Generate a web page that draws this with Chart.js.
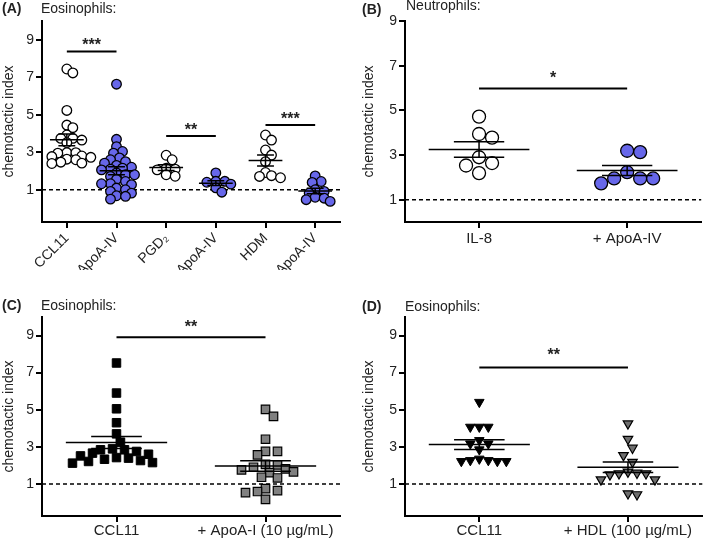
<!DOCTYPE html>
<html>
<head>
<meta charset="utf-8">
<script src="https://cdn.jsdelivr.net/npm/chart.js@4/dist/chart.umd.min.js"></script>
<style>
  body { margin: 0; width: 709px; height: 538px; position: relative; background: #fff; overflow: hidden;
         font-family: "Liberation Sans", Arial, sans-serif; }
  canvas { position: absolute; }
  .lbl { position: absolute; font-size: 14px; color: #222; white-space: nowrap; line-height: 16px; }
</style>
</head>
<body>
<canvas id="chartA" width="355" height="270" style="left:0;top:0"></canvas>
<canvas id="chartB" width="349" height="270" style="left:360px;top:0"></canvas>
<canvas id="chartC" width="355" height="268" style="left:0;top:270px"></canvas>
<canvas id="chartD" width="349" height="268" style="left:360px;top:270px"></canvas>

<div class="lbl" style="left:2px;top:0"><b>(A)</b></div>
<div class="lbl" style="left:41px;top:0">Eosinophils:</div>
<div class="lbl" style="left:362px;top:1px"><b>(B)</b></div>
<div class="lbl" style="left:406px;top:-3px">Neutrophils:</div>
<div class="lbl" style="left:2px;top:297px"><b>(C)</b></div>
<div class="lbl" style="left:41px;top:297px">Eosinophils:</div>
<div class="lbl" style="left:362px;top:298px"><b>(D)</b></div>
<div class="lbl" style="left:405px;top:298px">Eosinophils:</div>

<script>
// values (chemotactic index)
const yTicks = [1, 3, 5, 7, 9];
const baseline = 1;

// (A) eosinophils
const catsA = ['CCL11', '+ ApoA-IV', 'PGD₂', '+ ApoA-IV', 'HDM', '+ ApoA-IV'];
const ccl11A = [7.44, 7.23, 5.23, 4.45, 4.31, 3.92, 3.74, 3.74, 3.65, 3.51, 2.98, 2.98, 2.95, 2.80, 2.77, 2.73, 2.63, 2.60, 2.47, 2.42, 2.40];
const ccl11ApoA = [6.63, 3.69, 3.30, 3.04, 2.95, 2.70, 2.60, 2.50, 2.42, 2.30, 2.20, 2.15, 2.10, 2.06, 1.90, 1.80, 1.80, 1.71, 1.55, 1.44, 1.32, 1.32, 1.27, 1.09, 1.00, 0.91, 0.82, 0.68, 0.65, 0.50];
const pgd2A = [2.84, 2.60, 2.15, 2.10, 2.06, 1.80, 1.72];
const pgd2ApoA = [1.90, 1.45, 1.45, 1.40, 1.30, 1.10, 0.87];
const hdmA = [3.92, 3.65, 3.12, 2.85, 2.50, 1.92, 1.75, 1.71, 1.64];
const hdmApoA = [1.74, 1.44, 1.39, 1.00, 0.91, 0.82, 0.60, 0.55, 0.47, 0.38];
const sigA = [[0, 1, 8.38, '***'], [2, 3, 3.87, '**'], [4, 5, 4.45, '***']];

// (B) neutrophils
const catsB = ['IL-8', '+ ApoA-IV'];
const il8B = [4.72, 3.94, 3.78, 2.90, 2.64, 2.53, 2.19];
const il8ApoB = [3.19, 3.13, 2.23, 1.95, 1.95, 1.95, 1.73];
const sigB = [[0, 1, 5.98, '*']];

// (C) eosinophils, ApoA-I
const catsC = ['CCL11', '+ ApoA-I (10 µg/mL)'];
const ccl11C = [7.52, 5.90, 5.05, 4.30, 3.70, 3.25, 2.89, 2.84, 2.84, 2.75, 2.66, 2.60, 2.51, 2.42, 2.39, 2.33, 2.26, 2.21, 2.15, 2.12];
const apoA1C = [5.02, 4.64, 3.41, 2.75, 2.75, 2.57, 2.05, 2.03, 1.90, 1.81, 1.76, 1.65, 1.61, 1.36, 1.32, 0.75, 0.64, 0.59, 0.53, 0.17];
const sigC = [[0, 1, 8.91, '**']];

// (D) eosinophils, HDL
const catsD = ['CCL11', '+ HDL (100 µg/mL)'];
const ccl11D = [5.41, 4.07, 4.07, 4.07, 3.35, 3.17, 3.17, 2.85, 2.35, 2.27, 2.27, 2.22, 2.22, 2.22];
const hdlD = [4.25, 3.42, 2.94, 2.54, 2.18, 1.65, 1.59, 1.56, 1.56, 1.50, 1.23, 1.23, 0.48, 0.43];
const sigD = [[0, 1, 7.28, '**']];

Chart.defaults.font.family = '"Liberation Sans", Arial, sans-serif';
const ink = '#222';
const BLUE = '#6767ea';

// mean +/- SEM bars, dashed reference line and significance bars
const statsPlugin = {
  id: 'stats',
  beforeDatasetsDraw(chart) {
    const { ctx, chartArea, scales: { y } } = chart;
    const py = y.getPixelForValue(baseline);
    ctx.save();
    ctx.strokeStyle = '#000';
    ctx.lineWidth = 1.5;
    ctx.setLineDash([4, 3]);
    ctx.beginPath();
    ctx.moveTo(chartArea.left, py);
    ctx.lineTo(chartArea.right, py);
    ctx.stroke();
    ctx.restore();
  },
  afterDatasetsDraw(chart) {
    const { ctx, scales: { x, y } } = chart;
    const o = chart.options.plugins.stats;
    const step = x.getPixelForValue(1) - x.getPixelForValue(0);
    ctx.save();
    ctx.strokeStyle = '#000';
    ctx.lineWidth = 1.5;
    o.groups.forEach((vals, i) => {
      const n = vals.length;
      const mean = vals.reduce((a, b) => a + b, 0) / n;
      const sd = Math.sqrt(vals.reduce((a, b) => a + (b - mean) ** 2, 0) / (n - 1));
      const sem = sd / Math.sqrt(n);
      const cx = x.getPixelForValue(i);
      const wm = step * 0.34, ws = step * 0.17;
      const pm = y.getPixelForValue(mean), pu = y.getPixelForValue(mean + sem), pl = y.getPixelForValue(mean - sem);
      ctx.beginPath();
      ctx.moveTo(cx - wm, pm); ctx.lineTo(cx + wm, pm);
      ctx.moveTo(cx - ws, pu); ctx.lineTo(cx + ws, pu);
      ctx.moveTo(cx - ws, pl); ctx.lineTo(cx + ws, pl);
      ctx.moveTo(cx, pu); ctx.lineTo(cx, pl);
      ctx.stroke();
    });
    ctx.lineWidth = 2;
    ctx.fillStyle = ink;
    ctx.font = 'bold 16px "Liberation Sans", Arial, sans-serif';
    ctx.textAlign = 'center';
    ctx.textBaseline = 'alphabetic';
    o.sig.forEach(([a, b, v, txt]) => {
      const x1 = x.getPixelForValue(a), x2 = x.getPixelForValue(b), py = y.getPixelForValue(v);
      ctx.beginPath();
      ctx.moveTo(x1, py); ctx.lineTo(x2, py);
      ctx.stroke();
      ctx.fillText(txt, (x1 + x2) / 2, py - o.gap);
    });
    ctx.restore();
  }
};

// spread points sideways so they do not sit on top of each other
function swarm(chart, gap, step) {
  const xs = chart.scales.x, ys = chart.scales.y;
  const unit = xs.getPixelForValue(1) - xs.getPixelForValue(0);
  chart.data.datasets.forEach((ds, i) => {
    const placed = [];
    const order = ds.data.map((p, k) => k).sort((a, b) => ds.data[b].y - ds.data[a].y);
    order.forEach(k => {
      const py = ys.getPixelForValue(ds.data[k].y);
      for (let j = 0; j < 400; j++) {
        const off = (j % 2 ? 1 : -1) * Math.ceil(j / 2) * step;
        if (placed.every(q => (q[0] - off) ** 2 + (q[1] - py) ** 2 >= gap * gap)) {
          placed.push([off, py]);
          ds.data[k].x = i + off / unit;
          break;
        }
      }
    });
  });
  chart.update('none');
}

function makePanel(id, p) {
  const n = p.cats.length;
  const chart = new Chart(document.getElementById(id), {
    type: 'scatter',
    data: {
      datasets: p.groups.map((vals, i) => ({
        data: vals.map(v => ({ x: i, y: v })),
        pointStyle: p.marks[i].shape,
        rotation: p.marks[i].rot || 0,
        radius: p.marks[i].r,
        hoverRadius: p.marks[i].r,
        backgroundColor: p.marks[i].fill,
        borderColor: '#000',
        borderWidth: p.marks[i].bw
      }))
    },
    options: {
      responsive: false,
      animation: false,
      layout: { padding: p.pad },
      plugins: {
        legend: { display: false },
        tooltip: { enabled: false },
        stats: { groups: p.groups, sig: p.sig, gap: p.gap }
      },
      scales: {
        x: {
          type: 'linear', min: -0.5, max: n - 0.5,
          afterBuildTicks: s => { s.ticks = p.cats.map((c, i) => ({ value: i })); },
          afterFit: s => { s.height = p.xh; },
          ticks: {
            autoSkip: false, color: ink, font: { size: p.xfont }, padding: p.xpad,
            minRotation: p.rot, maxRotation: p.rot,
            callback: v => p.cats[v]
          },
          grid: { drawOnChartArea: false, color: '#000', lineWidth: 2, tickLength: 6 },
          border: { color: '#000', width: 2 }
        },
        y: {
          min: p.ymin, max: p.ymax,
          afterBuildTicks: s => { s.ticks = yTicks.map(v => ({ value: v })); },
          afterFit: s => { s.width = p.yw; },
          ticks: { color: ink, font: { size: 14 }, padding: 2 },
          grid: { drawOnChartArea: false, color: '#000', lineWidth: 2, tickLength: 6 },
          border: { color: '#000', width: 2 },
          title: { display: true, text: 'chemotactic index', color: ink, font: { size: 14 }, padding: { top: 1, bottom: 0 } }
        }
      }
    },
    plugins: [statsPlugin]
  });
  swarm(chart, p.swarmGap, p.swarmStep);
}

const circW = { shape: 'circle', fill: '#fff', bw: 1.3 };
const circB = { shape: 'circle', fill: BLUE, bw: 1.3 };

makePanel('chartA', {
  cats: catsA, groups: [ccl11A, ccl11ApoA, pgd2A, pgd2ApoA, hdmA, hdmApoA],
  marks: [circW, circB, circW, circB, circW, circB].map(m => ({ ...m, r: 4.8 })),
  sig: sigA, gap: 1, ymin: -0.72, ymax: 10, yw: 42, xh: 48, rot: 45, xpad: 2, xfont: 14,
  pad: { top: 21, right: 15, left: 0, bottom: 0 }, swarmGap: 6.5, swarmStep: 3
});

makePanel('chartB', {
  cats: catsB, groups: [il8B, il8ApoB],
  marks: [circW, circB].map(m => ({ ...m, r: 6.5 })),
  sig: sigB, gap: 5, ymin: 0, ymax: 9, yw: 45, xh: 48, rot: 0, xpad: 2, xfont: 15,
  pad: { top: 21, right: 1, left: 0, bottom: 0 }, swarmGap: 13, swarmStep: 6.5
});

makePanel('chartC', {
  cats: catsC, groups: [ccl11C, apoA1C],
  marks: [
    { shape: 'rect', fill: '#000', bw: 1, r: 6 },
    { shape: 'rect', fill: '#808080', bw: 1.2, r: 6 }
  ],
  sig: sigC, gap: 5, ymin: -0.73, ymax: 10, yw: 42, xh: 22, rot: 0, xpad: 0, xfont: 15,
  pad: { top: 47, right: 15, left: 0, bottom: 0 }, swarmGap: 8.5, swarmStep: 4
});

makePanel('chartD', {
  cats: catsD, groups: [ccl11D, hdlD],
  marks: [
    { shape: 'triangle', rot: 180, fill: '#000', bw: 1, r: 5.5 },
    { shape: 'triangle', rot: 180, fill: '#6e6e6e', bw: 1.2, r: 5.5 }
  ],
  sig: sigD, gap: 7, ymin: -0.73, ymax: 10, yw: 45, xh: 22, rot: 0, xpad: 0, xfont: 15,
  pad: { top: 47, right: 1, left: 0, bottom: 0 }, swarmGap: 9, swarmStep: 4.5
});
</script>
</body>
</html>
